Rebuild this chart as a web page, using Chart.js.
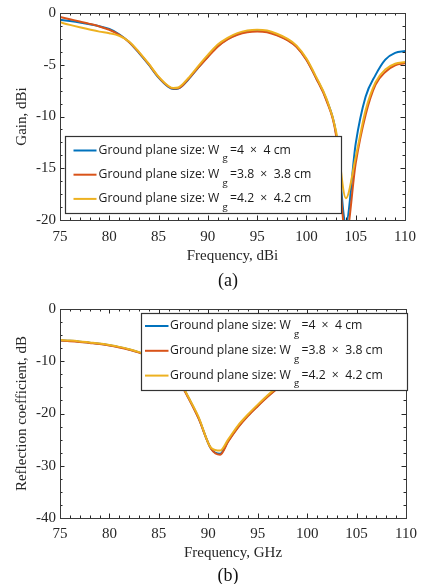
<!DOCTYPE html>
<html><head><meta charset="utf-8">
<script src="https://cdn.jsdelivr.net/npm/chart.js@4"></script>
<style>
html,body{margin:0;padding:0;background:#fff;}
body{width:424px;height:584px;position:relative;overflow:hidden;}
.wrap{position:absolute;left:0;width:424px;}
#w1{top:0;height:290px;}
#w2{top:290px;height:294px;}
.cap{position:absolute;font-family:'Liberation Serif',serif;font-size:18px;line-height:20px;color:#111;width:40px;text-align:center;}
</style></head><body>
<div class="wrap" id="w1"><canvas id="c1"></canvas></div>
<div class="wrap" id="w2"><canvas id="c2"></canvas></div>
<div class="cap" style="left:208px;top:270px">(a)</div>
<div class="cap" style="left:208px;top:565px">(b)</div>
<script>
// ---------- data ----------
const freqA = [75,76,77,78,79,80,81,82,83,84,85,86,86.5,87,88,89,90,91,92,93,94,95,96,97,98,99,100,101,102,103,104,105,106,107,108,109,110];
const gainBlue   = [-0.65,-0.78,-0.92,-1.08,-1.28,-1.55,-2.05,-2.8,-3.85,-5.0,-6.25,-7.15,-7.35,-7.3,-6.45,-5.3,-4.2,-3.2,-2.5,-2.05,-1.8,-1.72,-1.8,-2.1,-2.55,-3.25,-4.5,-6.3,-8.3,-11.6,-20.3,-12.6,-8.1,-6.0,-4.5,-3.85,-3.68];
const gainRed    = [-0.38,-0.6,-0.83,-1.05,-1.3,-1.62,-2.1,-2.8,-3.8,-4.95,-6.2,-7.1,-7.3,-7.28,-6.4,-5.3,-4.25,-3.25,-2.55,-2.1,-1.85,-1.78,-1.85,-2.15,-2.6,-3.3,-4.55,-6.35,-8.4,-11.8,-21.5,-14.5,-9.85,-6.95,-5.7,-5.05,-4.86];
const gainYellow = [-0.9,-1.15,-1.38,-1.6,-1.8,-1.95,-2.2,-2.75,-3.75,-4.9,-6.15,-7.05,-7.25,-7.2,-6.3,-5.15,-4.05,-3.05,-2.4,-1.95,-1.7,-1.62,-1.7,-2.0,-2.45,-3.15,-4.4,-6.2,-8.2,-11.4,-17.9,-13.9,-9.4,-6.7,-5.45,-4.9,-4.74];

const freqB = [75,76,77,78,79,80,81,82,83,84,85,86,87,88,89,90.3,91.2,92,93,94,95,96,97,98,99,100,101,102,103,104,105,106,107,108,109,110];
const reflBlue   = [-6.0,-6.1,-6.25,-6.45,-6.65,-6.95,-7.3,-7.75,-8.3,-9.1,-10.1,-11.5,-13.6,-17.0,-20.8,-26.8,-27.7,-25.3,-22.6,-20.4,-18.5,-16.7,-15.1,-13.7,-12.3,-11.0,-9.9,-8.9,-8.0,-7.2,-6.5,-5.9,-5.4,-5.0,-4.75,-4.5];
const reflRed    = [-6.05,-6.15,-6.3,-6.5,-6.7,-7.0,-7.35,-7.8,-8.35,-9.15,-10.15,-11.55,-13.7,-17.1,-20.9,-26.8,-27.9,-25.4,-22.7,-20.5,-18.6,-16.8,-15.2,-13.8,-12.4,-11.1,-10.0,-9.0,-8.1,-7.3,-6.6,-6.0,-5.5,-5.1,-4.8,-4.55];
const reflYellow = [-5.95,-6.05,-6.2,-6.4,-6.6,-6.9,-7.25,-7.7,-8.25,-9.05,-10.05,-11.45,-13.5,-16.9,-20.6,-26.6,-27.1,-25.0,-22.3,-20.2,-18.3,-16.5,-14.9,-13.5,-12.1,-10.9,-9.8,-8.8,-7.9,-7.1,-6.4,-5.8,-5.3,-4.9,-4.65,-4.45];

const xTicks = {min:75, max:110, step:5, minor:1};
const yTicksA = {min:-20, max:0, step:5, minor:1.25};
const yTicksB = {min:-40, max:0, step:10, minor:2.5};

const seriesColors = ['#0072BD','#D95319','#EDB120'];
const labelPre = 'Ground plane size: W';
const labelSub = 'g';
const labelSize = [['=4', '4 cm'], ['=3.8', '3.8 cm'], ['=4.2', '4.2 cm']];
const labelTimes = '\u00d7';

const titleA = {x:'Frequency, dBi', y:'Gain, dBi'};
const titleB = {x:'Frequency, GHz', y:'Reflection coefficient, dB'};

// ---------- helpers ----------
const pts = (xs, ys) => xs.map((x,i)=>({x, y: ys[i]}));
const serif = "'Liberation Serif', 'Times New Roman', serif";
const axisColor = '#262626';

const framePlugin = {
  id: 'frame',
  afterDatasetsDraw(chart, args, opts) {
    const {ctx, chartArea:{left,right,top,bottom}, scales:{x,y}} = chart;
    ctx.save();
    ctx.strokeStyle = axisColor;
    ctx.lineWidth = 1;
    ctx.beginPath();
    const isMajor = (v, step) => Math.abs(v/step - Math.round(v/step)) < 1e-6;
    const nx = Math.round((x.max - x.min)/opts.xMinor);
    for (let i = 0; i <= nx; i++) {
      const v = x.min + i*opts.xMinor;
      const px = Math.round(x.getPixelForValue(v)) + 0.5;
      const L = isMajor(v, opts.xMajor) ? 4.5 : 2.5;
      ctx.moveTo(px, bottom); ctx.lineTo(px, bottom - L);
      ctx.moveTo(px, top); ctx.lineTo(px, top + L);
    }
    const ny = Math.round((y.max - y.min)/opts.yMinor);
    for (let i = 0; i <= ny; i++) {
      const v = y.min + i*opts.yMinor;
      const py = Math.round(y.getPixelForValue(v)) + 0.5;
      const L = isMajor(v, opts.yMajor) ? 4.5 : 2.5;
      ctx.moveTo(left, py); ctx.lineTo(left + L, py);
      ctx.moveTo(right, py); ctx.lineTo(right - L, py);
    }
    ctx.stroke();
    ctx.strokeStyle = '#3a3a3a';
    ctx.strokeRect(Math.round(left)+0.5, Math.round(top)+0.5, Math.round(right-left), Math.round(bottom-top));
    ctx.restore();
  }
};

const legendPlugin = {
  id: 'customLegend',
  afterDraw(chart, args, o) {
    const ctx = chart.ctx;
    ctx.save();
    ctx.fillStyle = '#ffffff';
    ctx.fillRect(o.x, o.y, o.w, o.h);
    ctx.strokeStyle = '#333333';
    ctx.lineWidth = 1.2;
    ctx.strokeRect(o.x + 0.5, o.y + 0.5, o.w, o.h);
    // fit the font so the leading text spans the same width as in the reference
    ctx.font = "12px 'Open Sans'";
    const fs = 12 * o.preW / ctx.measureText(labelPre).width;
    const mainFont = fs.toFixed(2) + "px 'Open Sans'";
    const subFont = (fs * 0.78).toFixed(2) + "px 'Open Sans'";
    for (let i = 0; i < 3; i++) {
      const ly = o.rowY + i*o.rowGap;
      ctx.strokeStyle = seriesColors[i];
      ctx.lineWidth = 2;
      ctx.beginPath();
      ctx.moveTo(o.s0, ly); ctx.lineTo(o.s1, ly);
      ctx.stroke();
      const by = ly + 3.3;
      ctx.fillStyle = '#1a1a1a';
      ctx.textBaseline = 'alphabetic';
      ctx.textAlign = 'left';
      ctx.font = mainFont;
      let tx = o.tx;
      ctx.fillText(labelPre, tx, by);
      tx += ctx.measureText(labelPre).width + 3;
      ctx.font = subFont;
      ctx.fillText(labelSub, tx, by + 7.5);
      tx += ctx.measureText(labelSub).width + 2.5;
      ctx.font = mainFont;
      ctx.fillText(labelSize[i][0], tx, by);
      tx += ctx.measureText(labelSize[i][0]).width + 6;
      ctx.fillText(labelTimes, tx, by);
      tx += ctx.measureText(labelTimes).width + 6.5;
      ctx.fillText(labelSize[i][1], tx, by);
    }
    ctx.restore();
  }
};

function makeChart(id, xs, series, yT, titles, pad, xH, legendOpts, tickPad, xTitlePad) {
  return new Chart(document.getElementById(id), {
    type: 'line',
    data: {
      datasets: series.map((s, i) => ({
        data: pts(xs, s),
        borderColor: seriesColors[i],
        borderWidth: 2,
        pointRadius: 0,
        cubicInterpolationMode: 'monotone',
        clip: 0,
        order: 2 - i
      }))
    },
    options: {
      responsive: true,
      maintainAspectRatio: false,
      animation: false,
      events: [],
      layout: {padding: {top: pad, right: 12, left: 0, bottom: 0}},
      plugins: {
        legend: {display: false},
        tooltip: {enabled: false},
        frame: {xMinor: xTicks.minor, xMajor: xTicks.step, yMinor: yT.minor, yMajor: yT.step},
        customLegend: legendOpts
      },
      scales: {
        x: {
          type: 'linear', min: xTicks.min, max: xTicks.max,
          grid: {display: false, drawTicks: false},
          border: {display: false},
          ticks: {stepSize: xTicks.step, padding: tickPad, color: axisColor, font: {family: serif, size: 15},
                  callback: v => String(v), maxRotation: 0, autoSkip: false},
          title: {display: true, text: titles.x, color: axisColor, font: {family: serif, size: 15}, padding: {top: 0, bottom: xTitlePad}},
          afterFit: s => { s.height = xH; }
        },
        y: {
          type: 'linear', min: yT.min, max: yT.max,
          grid: {display: false, drawTicks: false},
          border: {display: false},
          ticks: {stepSize: yT.step, padding: 4, color: axisColor, font: {family: serif, size: 15},
                  callback: v => String(v), autoSkip: false},
          title: {display: true, text: titles.y, color: axisColor, font: {family: serif, size: 15}, padding: {top: 13, bottom: 0}},
          afterFit: s => { s.width = 60; }
        }
      }
    },
    plugins: [framePlugin, legendPlugin]
  });
}

makeChart('c1', freqA, [gainBlue, gainRed, gainYellow], yTicksA, titleA, 13, 70,
  {x: 65, y: 136, w: 276, h: 77, rowY: 150.5, rowGap: 24.2, s0: 73.5, s1: 96.5, tx: 98.5, preW: 121}, 8, 25);
makeChart('c2', freqB, [reflBlue, reflRed, reflYellow], yTicksB, titleB, 19, 66,
  {x: 141, y: 23, w: 266, h: 77, rowY: 36, rowGap: 24.8, s0: 145, s1: 168.5, tx: 170, preW: 121}, 7, 22);
</script>
</body></html>
